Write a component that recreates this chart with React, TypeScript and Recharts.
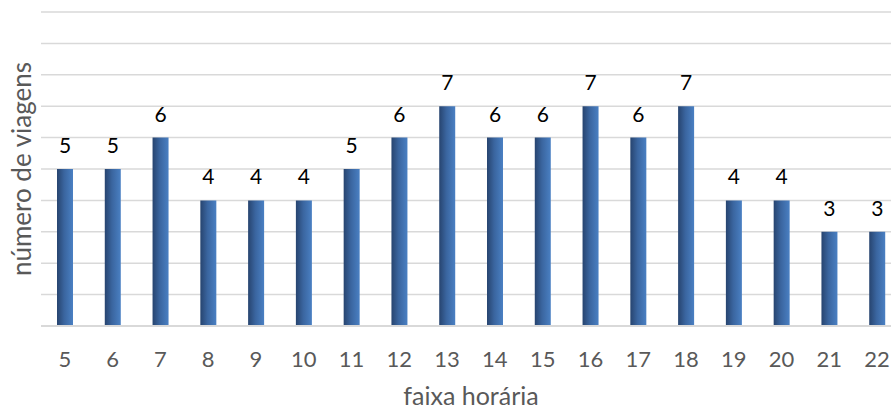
import React from 'react';
import { BarChart, Bar, XAxis, YAxis, CartesianGrid, LabelList } from 'recharts';

const hours = ['5', '6', '7', '8', '9', '10', '11', '12', '13', '14', '15', '16', '17', '18', '19', '20', '21', '22'];
const trips = [5, 5, 6, 4, 4, 4, 5, 6, 7, 6, 6, 7, 6, 7, 4, 4, 3, 3];
const yTicks = [0, 1, 2, 3, 4, 5, 6, 7, 8, 9, 10];

const data = hours.map((h, i) => ({ hour: h, trips: trips[i] }));

const font = 'Lato, "Open Sans", sans-serif';

const App: React.FC = () => {
  return (
    <div style={{ position: 'fixed', left: 0, top: 0, width: 891, height: 412, overflow: 'hidden', background: '#fff' }}>
      <BarChart
        width={910}
        height={412}
        data={data}
        margin={{ top: 12, right: 9, left: 0, bottom: 0 }}
        barCategoryGap={0}
      >
        <defs>
          <linearGradient id="barFill" x1="0" y1="0" x2="1" y2="0">
            <stop offset="0%" stopColor="#27446f" />
            <stop offset="45%" stopColor="#3a659f" />
            <stop offset="100%" stopColor="#4a80c3" />
          </linearGradient>
        </defs>
        <CartesianGrid vertical={false} stroke="#d9d9d9" strokeWidth={1.5} />
        <XAxis
          dataKey="hour"
          height={86}
          tickLine={false}
          axisLine={{ stroke: '#d9d9d9', strokeWidth: 2 }}
          tickMargin={19}
          tick={{ fill: '#595959', fontSize: 22, fontFamily: font }}
          interval={0}
          label={{ value: 'faixa horária', position: 'insideBottom', offset: 7, fill: '#595959', fontSize: 25, fontFamily: font }}
        />
        <YAxis
          width={41}
          domain={[0, 10]}
          ticks={yTicks}
          tick={() => <g />}
          tickLine={false}
          axisLine={false}
          label={{ value: 'número de viagens', angle: -90, position: 'insideLeft', offset: 22, fill: '#595959', fontSize: 26, fontFamily: font, style: { textAnchor: 'middle' } }}
        />
        <Bar dataKey="trips" fill="url(#barFill)" barSize={16} isAnimationActive={false}>
          <LabelList dataKey="trips" position="top" offset={16} fill="#000" fontSize={21} fontFamily={font} />
        </Bar>
      </BarChart>
    </div>
  );
};

export default App;
